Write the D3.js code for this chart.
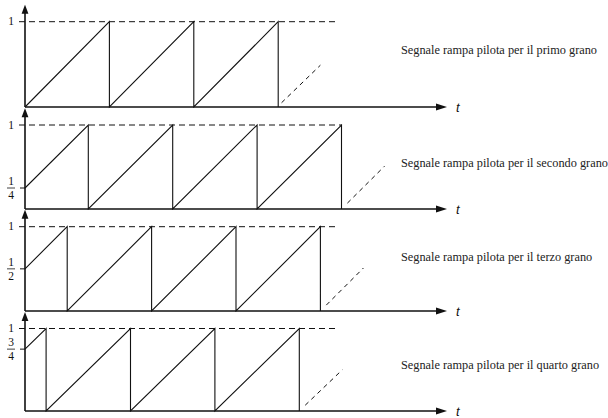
<!DOCTYPE html>
<html>
<head>
<meta charset="utf-8">
<script src="https://cdn.jsdelivr.net/npm/d3@7/dist/d3.min.js"></script>
<style>
  html, body { margin: 0; padding: 0; background: #fff; }
  svg { display: block; }
</style>
</head>
<body>
<svg id="chart" width="608" height="418"></svg>
<script>
// time in ramp periods, value normalised to 1
const panels = ['primo', 'secondo', 'terzo', 'quarto'];
const labels = [
  'Segnale rampa pilota per il primo grano',
  'Segnale rampa pilota per il secondo grano',
  'Segnale rampa pilota per il terzo grano',
  'Segnale rampa pilota per il quarto grano',
];
// ramp vertices [t, v]
const ramps = [
  [[0, 0], [1, 1], [1, 0], [2, 1], [2, 0], [3, 1], [3, 0]],
  [[0, 0.25], [0.75, 1], [0.75, 0], [1.75, 1], [1.75, 0], [2.75, 1], [2.75, 0], [3.75, 1], [3.75, 0]],
  [[0, 0.5], [0.5, 1], [0.5, 0], [1.5, 1], [1.5, 0], [2.5, 1], [2.5, 0], [3.5, 1], [3.5, 0]],
  [[0, 0.75], [0.25, 1], [0.25, 0], [1.25, 1], [1.25, 0], [2.25, 1], [2.25, 0], [3.25, 1], [3.25, 0]],
];
// dashed continuation of the ramp
const tails = [
  [[3.04, 0.05], [3.5, 0.49]],
  [[3.82, 0.07], [4.26, 0.51]],
  [[3.57, 0.07], [4.01, 0.51]],
  [[3.32, 0.07], [3.76, 0.5]],
];
// end of the dashed level-1 line
const levelEnd = [3.68, 3.75, 3.68, 3.7];
// y tick labels: [value, numerator, denominator]
const ticks = [
  [[1, '1', null]],
  [[1, '1', null], [0.25, '1', '4']],
  [[1, '1', null], [0.5, '1', '2']],
  [[1, '1', null], [0.75, '3', '4']],
];
const tMax = 5;

// layout: pixel position of v=0 and v=1 in each strip
const layout = [
  { base: 107, top: 21.7, labelY: 50 },
  { base: 209, top: 125, labelY: 163 },
  { base: 311, top: 226.7, labelY: 257 },
  { base: 411, top: 328.5, labelY: 365 },
];

const svg = d3.select('#chart');
const x = d3.scaleLinear().domain([0, tMax]).range([25, 447]);
const serif = 'Liberation Serif, Times New Roman, Times, serif';

panels.forEach((p, i) => {
  const L = layout[i];
  const y = d3.scaleLinear().domain([0, 1]).range([L.base, L.top]);
  const g = svg.append('g').attr('class', 'panel-' + p);
  const line = d3.line().x((d) => x(d[0])).y((d) => y(d[1]));

  // dashed level 1
  g.append('line')
    .attr('x1', x(0) - 6).attr('x2', x(levelEnd[i]))
    .attr('y1', y(1)).attr('y2', y(1))
    .attr('stroke', '#111').attr('stroke-width', 1)
    .attr('stroke-dasharray', '6,4');

  // time axis
  g.append('line')
    .attr('x1', x(0)).attr('x2', x(tMax) - 8)
    .attr('y1', y(0)).attr('y2', y(0))
    .attr('stroke', '#111').attr('stroke-width', 1.6);
  const xe = x(tMax);
  g.append('path')
    .attr('d', `M${xe},${y(0)} L${xe - 11},${y(0) - 3.6} L${xe - 11},${y(0) + 3.6} Z`)
    .attr('fill', '#111');
  g.append('text')
    .attr('x', xe + 9).attr('y', y(0) + 4.5)
    .attr('font-family', 'Liberation Sans, Arial, sans-serif')
    .attr('font-style', 'italic')
    .attr('font-size', 13)
    .attr('fill', '#111')
    .text('t');

  // value axis
  const yTip = y(1.2);
  g.append('line')
    .attr('x1', x(0)).attr('x2', x(0))
    .attr('y1', y(0)).attr('y2', yTip + 7)
    .attr('stroke', '#111').attr('stroke-width', 1.6);
  g.append('path')
    .attr('d', `M${x(0)},${yTip} L${x(0) - 3.4},${yTip + 9} L${x(0) + 3.4},${yTip + 9} Z`)
    .attr('fill', '#111');

  // ramp
  g.append('path')
    .attr('d', line(ramps[i]))
    .attr('fill', 'none').attr('stroke', '#111').attr('stroke-width', 1.1);

  // dashed tail
  g.append('path')
    .attr('d', line(tails[i]))
    .attr('fill', 'none').attr('stroke', '#111').attr('stroke-width', 1)
    .attr('stroke-dasharray', '4.5,4');

  // tick labels
  ticks[i].forEach(([v, num, den]) => {
    if (den === null) {
      g.append('text')
        .attr('x', 11).attr('y', y(v) + 3.5)
        .attr('text-anchor', 'middle')
        .attr('font-family', serif).attr('font-size', 11.5)
        .attr('fill', '#111')
        .text(num);
    } else {
      g.append('line')
        .attr('x1', x(0) - 5).attr('x2', x(0))
        .attr('y1', y(v)).attr('y2', y(v))
        .attr('stroke', '#111').attr('stroke-width', 1);
      g.append('line')
        .attr('x1', 7).attr('x2', 15)
        .attr('y1', y(v)).attr('y2', y(v))
        .attr('stroke', '#111').attr('stroke-width', 0.8);
      g.append('text')
        .attr('x', 11).attr('y', y(v) - 3)
        .attr('text-anchor', 'middle')
        .attr('font-family', serif).attr('font-size', 11.5)
        .attr('fill', '#111')
        .text(num);
      g.append('text')
        .attr('x', 11).attr('y', y(v) + 11)
        .attr('text-anchor', 'middle')
        .attr('font-family', serif).attr('font-size', 11.5)
        .attr('fill', '#111')
        .text(den);
    }
  });

  // caption
  g.append('text')
    .attr('x', 401).attr('y', L.labelY + 4)
    .attr('font-family', serif).attr('font-size', 12.3)
    .attr('fill', '#222')
    .text(labels[i]);
});
</script>
</body>
</html>
